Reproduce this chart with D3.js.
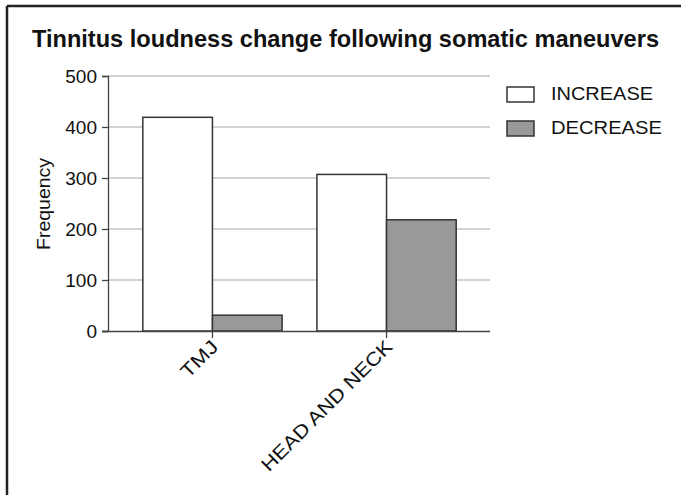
<!DOCTYPE html>
<html>
<head>
<script src="https://cdn.jsdelivr.net/npm/d3@7"></script>
<style>
  body { margin: 0; background: #fff; }
  text { font-family: "Liberation Sans", Arial, sans-serif; fill: #111; }
</style>
</head>
<body>
<div id="chart"></div>
<script>
var categories = ["TMJ", "HEAD AND NECK"];
var seriesNames = ["INCREASE", "DECREASE"];
var increase = [419, 307];
var decrease = [31, 218];
var yTicks = [0, 100, 200, 300, 400, 500];

var colors = { "INCREASE": "#ffffff", "DECREASE": "#999999" };

var svg = d3.select("#chart").append("svg")
  .attr("width", 681)
  .attr("height", 495);

// frame (top + left only)
svg.append("line").attr("x1", 7).attr("y1", 6).attr("x2", 681).attr("y2", 6)
  .attr("stroke", "#222").attr("stroke-width", 2.5);
svg.append("line").attr("x1", 7).attr("y1", 6).attr("x2", 7).attr("y2", 495)
  .attr("stroke", "#222").attr("stroke-width", 2.5);

svg.append("text")
  .attr("x", 32).attr("y", 47)
  .attr("font-size", 24).attr("font-weight", "bold")
  .attr("textLength", 627).attr("lengthAdjust", "spacingAndGlyphs")
  .text("Tinnitus loudness change following somatic maneuvers");

var y = d3.scaleLinear().domain([0, 500]).range([331, 76]);
var x = d3.scaleBand().domain(categories).range([108, 491]).padding(0.2);
var xs = d3.scaleBand().domain(seriesNames).range([0, x.bandwidth()]);

// gridlines
svg.append("g").selectAll("line").data(yTicks.slice(1)).join("line")
  .attr("x1", 108).attr("x2", 490)
  .attr("y1", d => y(d)).attr("y2", d => y(d))
  .attr("stroke", "#c4c4c4").attr("stroke-width", 1.3);

// y axis
var yAxis = svg.append("g").attr("transform", "translate(108,0)")
  .call(d3.axisLeft(y).tickValues(yTicks).tickSize(6).tickPadding(5));
yAxis.select(".domain").attr("stroke", "#444").attr("stroke-width", 1.3);
yAxis.selectAll(".tick line").attr("stroke", "#444").attr("stroke-width", 1.3);
yAxis.selectAll(".tick text").attr("font-size", 19).attr("fill", "#111")
  .attr("font-family", "Liberation Sans, Arial, sans-serif");

svg.append("text")
  .attr("transform", "translate(50,204) rotate(-90)")
  .attr("text-anchor", "middle")
  .attr("font-size", 19)
  .attr("textLength", 92).attr("lengthAdjust", "spacingAndGlyphs")
  .text("Frequency");

// bars
var rows = [];
categories.forEach(function(c, i) {
  rows.push({ cat: c, s: "INCREASE", v: increase[i] });
  rows.push({ cat: c, s: "DECREASE", v: decrease[i] });
});
svg.append("g").selectAll("rect").data(rows).join("rect")
  .attr("x", d => x(d.cat) + xs(d.s))
  .attr("width", xs.bandwidth())
  .attr("y", d => y(d.v))
  .attr("height", d => y(0) - y(d.v))
  .attr("fill", d => colors[d.s])
  .attr("stroke", "#333").attr("stroke-width", 1.5);

// x axis
var xAxis = svg.append("g").attr("transform", "translate(0,331)")
  .call(d3.axisBottom(x).tickSize(7).tickSizeOuter(0));
xAxis.select(".domain").attr("d", "M102,0.5H490").attr("stroke", "#444").attr("stroke-width", 1.3);
xAxis.selectAll(".tick line").attr("stroke", "#444").attr("stroke-width", 1.3);
var xLen = { "TMJ": 44, "HEAD AND NECK": 176 };
xAxis.selectAll(".tick text")
  .attr("font-size", 19).attr("fill", "#111")
  .attr("font-family", "Liberation Sans, Arial, sans-serif")
  .attr("text-anchor", "end")
  .attr("dy", null)
  .attr("transform", "translate(7,17) rotate(-45)")
  .attr("y", 0)
  .attr("textLength", d => xLen[d]).attr("lengthAdjust", "spacingAndGlyphs");

// legend
var leg = svg.append("g").selectAll("g").data(seriesNames).join("g")
  .attr("transform", (d, i) => "translate(507," + (87 + i * 34) + ")");
leg.append("rect").attr("width", 27).attr("height", 15)
  .attr("fill", d => colors[d]).attr("stroke", "#333").attr("stroke-width", 1.5);
leg.append("text").attr("x", 44).attr("y", 13)
  .attr("font-size", 18)
  .attr("textLength", d => d == "INCREASE" ? 102 : 111).attr("lengthAdjust", "spacingAndGlyphs")
  .text(d => d);
</script>
</body>
</html>
